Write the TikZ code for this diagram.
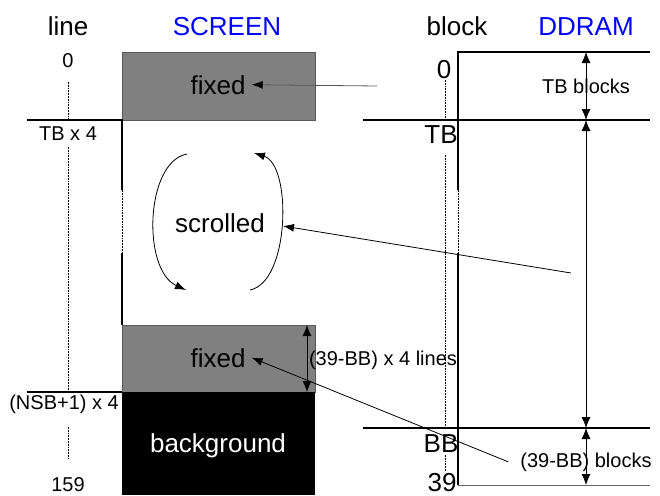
\documentclass[tikz,border=0pt]{standalone}
\usepackage{fontspec}
\setmainfont{Liberation Sans}
\usetikzlibrary{arrows.meta}
\begin{document}
\begin{tikzpicture}[x=1pt,y=-1pt,
  big/.style={font=\fontsize{26}{30}\selectfont, inner sep=0pt, anchor=base},
  small/.style={font=\fontsize{20}{24}\selectfont, inner sep=0pt, anchor=base},
  struct/.style={line width=1.3pt},
  axis/.style={line width=1pt, dash pattern=on 1.8pt off 1pt},
  arr/.style={line width=0.8pt, -{Latex[length=11pt,width=8pt]}},
  dim/.style={line width=0.8pt, {Latex[length=11pt,width=9pt]}-{Latex[length=11pt,width=9pt]}},
  hatch/.style={fill=black!50, draw=black!65, line width=0.6pt},
]
\useasboundingbox (0,0) rectangle (660,495);

% screen boxes
\draw[hatch] (122,52) rectangle (315,120);
\draw[hatch] (122,325) rectangle (315,392);
\fill[black] (122,392) rectangle (315,495);

% axis lines (dotted)
\draw[axis] (68,82) -- (68,120);
\draw[axis] (68,147) -- (68,392);
\draw[axis] (68,427) -- (68,458);
\draw[axis] (445,80) -- (445,120);
\draw[axis] (445,155) -- (445,428);
\draw[axis] (445,455) -- (445,471);

% structure lines
\draw[struct] (27,120) -- (122,120) -- (122,190);
\draw[axis] (122,190) -- (122,253);
\draw[struct] (122,253) -- (122,325);
\draw[struct] (27,392) -- (122,392);

\draw[struct] (650,52) -- (458,52) -- (458,190);
\draw[axis] (458,190) -- (458,253);
\draw[struct] (458,253) -- (458,485);
\draw[struct] (363,120) -- (650,120);
\draw[line width=2pt] (363,428) -- (650,428);
\draw[black!60, line width=1pt] (458,485) -- (650,485);

% titles
\node[big] (tline) at (68,36) {line};
\node[big, text=blue] (tscreen) at (227,36) {SCREEN};
\node[big] (tblock) at (457,36) {block};
\node[big, text=blue] (tddram) at (586,36) {DDRAM};

% left labels
\node[small] (l0) at (68,67) {0};
\node[small] (ltb) at (68,140) {TB x 4};
\node[small, anchor=base east] (lnsb) at (119,409) {(NSB+1) x 4};
\node[small] (l159) at (68,491) {159};

% right labels
\node[big] (r0) at (444,78) {0};
\node[big] (rtb) at (441,143) {TB};
\node[big] (rbb) at (441,452) {BB};
\node[big] (r39) at (442,491) {39};

% screen texts
\node[big, inner sep=6pt] (fixtop) at (218,94) {fixed};
\node[big, inner sep=6pt] (fixbot) at (218,367) {fixed};
\node[big] (scr) at (220,232) {scrolled};
\node[big, text=white] (bg) at (218,452) {background};

% dimension labels
\node[small] (tbblk) at (586,93) {TB blocks};
\node[small, inner xsep=12pt, inner ysep=0pt] (bbblk) at (586,467) {(39-BB) blocks};
\node[small] (bblines) at (383,365) {(39-BB) x 4 lines};

% arrows
\coordinate (srcTop) at (377,86);
\draw[arr, draw=black!65, -{Latex[length=11pt,width=8pt,fill=black,color=black]}] (srcTop) -- (fixtop.east);
\draw[arr] (bbblk.west) -- (fixbot.east);
\coordinate (ddsrc) at (571,273);
\coordinate (scrR) at (283,226);
\draw[arr] (ddsrc) -- (scrR);

% scrolling arcs
\draw[arr] (187,154) .. controls (145,162) and (142,270) .. (186,290);
\draw[arr] (250,290) .. controls (290,282) and (292,165) .. (254,153);

% dimensions
\coordinate (d0) at (586,52);
\coordinate (d1) at (586,120);
\coordinate (d2) at (586,428);
\coordinate (d3) at (586,485);
\draw[dim] (d0) -- (d1);
\draw[dim] (d1) -- (d2);
\draw[dim] (d2) -- (d3);
\coordinate (s0) at (307,325);
\coordinate (s1) at (307,392);
\draw[dim] (s0) -- (s1);
\end{tikzpicture}
\end{document}
